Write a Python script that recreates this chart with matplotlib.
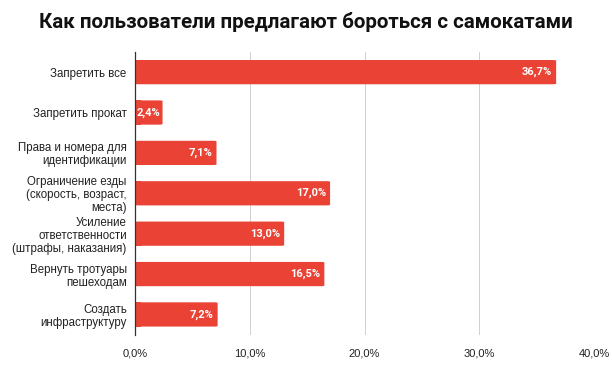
import matplotlib.pyplot as plt
from matplotlib.patches import FancyBboxPatch
from matplotlib.ticker import FuncFormatter

categories = [
    "Запретить все",
    "Запретить прокат",
    "Права и номера для\nидентификации",
    "Ограничение езды\n(скорость, возраст,\nместа)",
    "Усиление\nответственности\n(штрафы, наказания)",
    "Вернуть тротуары\nпешеходам",
    "Создать\nинфраструктуру",
]
values = [36.7, 2.4, 7.1, 17.0, 13.0, 16.5, 7.2]
xticks = [0, 10, 20, 30, 40]

bar_color = "#EA4335"

fig = plt.figure(figsize=(6.12, 3.71), dpi=100)
ax = fig.add_axes([0.2206, 0.098, 0.75, 0.762])

ypos = list(range(len(categories)))
bars = ax.barh(ypos, values, height=0.6, color=bar_color)

# rounded ends like in sheets
for b in bars:
    b.set_visible(False)
    p = FancyBboxPatch((b.get_x(), b.get_y()), b.get_width(), b.get_height(),
                       boxstyle="round,pad=0,rounding_size=0.3",
                       mutation_aspect=0.05, facecolor=bar_color,
                       edgecolor="none", zorder=3)
    ax.add_patch(p)
    # square off the left edge
    ax.add_patch(plt.Rectangle((b.get_x(), b.get_y()), min(0.5, b.get_width()),
                               b.get_height(), facecolor=bar_color,
                               edgecolor="none", zorder=3))

for y, v in zip(ypos, values):
    txt = f"{v:.1f}%".replace(".", ",")
    if v < 4:
        ax.text(0.15, y, txt, ha="left", va="center", color="white",
                fontsize=8, fontweight="bold", family="Roboto", zorder=4)
    else:
        ax.text(v - 0.35, y, txt, ha="right", va="center", color="white",
                fontsize=8, fontweight="bold", family="Roboto", zorder=4)

ax.set_yticks(ypos)
ax.set_yticklabels(categories, fontsize=8.3, family="Liberation Sans", color="#222222",
                   linespacing=1.12)
ax.set_ylim(len(categories) - 0.5, -0.5)
ax.set_xlim(0, 40)
ax.set_xticks(xticks)
ax.xaxis.set_major_formatter(FuncFormatter(lambda v, p: f"{v:.1f}%".replace(".", ",")))
ax.tick_params(axis="x", labelsize=8, length=0, pad=10, colors="#222222")
ax.tick_params(axis="y", length=0, pad=6)
for lbl in ax.get_xticklabels():
    lbl.set_family("Liberation Sans")

ax.grid(axis="x", color="#d0d0d0", linewidth=0.7, zorder=0)
for s in ["top", "right", "bottom"]:
    ax.spines[s].set_visible(False)
ax.spines["left"].set_color("#333333")
ax.spines["left"].set_linewidth(0.9)
ax.spines["left"].set_zorder(5)

fig.text(0.5, 0.94, "Как пользователи предлагают бороться с самокатами",
         ha="center", va="center", fontsize=14.8, fontweight="bold", family="Roboto",
         color="#111111")

fig.savefig("out.png", dpi=100)
